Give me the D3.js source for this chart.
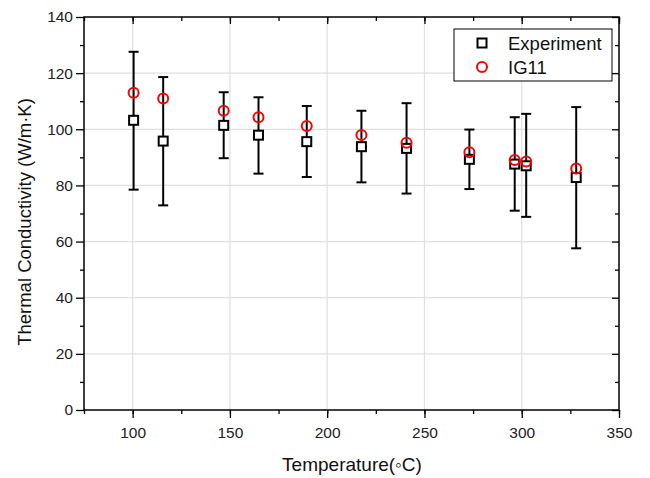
<!DOCTYPE html>
<html><head><meta charset="utf-8">
<script src="https://cdn.jsdelivr.net/npm/d3@7"></script>
<style>body{margin:0;background:#fff}svg{display:block;font-family:"Liberation Sans",Arial,sans-serif}</style>
</head><body><svg id="c" width="650" height="478"></svg>
<script>
const temps = [100.5, 115.7, 146.8, 164.7, 189.5, 217.6, 240.8, 273.1, 296.4, 302.3, 328.0];
const experiment = [103.2, 95.8, 101.4, 97.9, 95.6, 93.8, 93.2, 89.3, 87.6, 87.0, 82.8];
const errTop = [127.6, 118.6, 113.2, 111.4, 108.3, 106.6, 109.3, 99.9, 104.3, 105.5, 107.9];
const errBottom = [78.5, 72.9, 89.7, 84.2, 83.0, 81.1, 77.1, 78.7, 71.0, 68.8, 57.6];
const ig11 = [113.0, 111.0, 106.6, 104.3, 101.2, 98.0, 95.2, 91.8, 89.1, 88.5, 86.0];
const xTicks = [100, 150, 200, 250, 300, 350];
const yTicks = [0, 20, 40, 60, 80, 100, 120, 140];
const legendLabels = ["Experiment", "IG11"];

const svg = d3.select("#c");
const L = 84, R = 619, T = 17, B = 410;
const x = d3.scaleLinear().domain([75, 350]).range([L, R]);
const y = d3.scaleLinear().domain([0, 140]).range([B, T]);

// grid
const g = svg.append("g");
g.selectAll(".gx").data(xTicks.filter(d => d < 350)).join("line")
  .attr("x1", d => x(d)).attr("x2", d => x(d)).attr("y1", T).attr("y2", B)
  .attr("stroke", "#e0e0e0").attr("stroke-width", 1.2);
g.selectAll(".gy").data(yTicks.filter(d => d > 0 && d < 140)).join("line")
  .attr("y1", d => y(d)).attr("y2", d => y(d)).attr("x1", L).attr("x2", R)
  .attr("stroke", "#e0e0e0").attr("stroke-width", 1.2);

const minorX = d3.range(75, 351, 25);
const minorY = d3.range(10, 140, 20);

function styleAxis(sel) {
  sel.select(".domain").remove();
  sel.selectAll("line").attr("stroke", "#000").attr("stroke-width", 1.3);
  sel.selectAll("text").attr("font-size", 15.5).attr("fill", "#222")
    .attr("font-family", "Liberation Sans, Arial, sans-serif");
}
// bottom
svg.append("g").attr("transform", `translate(0,${B})`)
  .call(d3.axisBottom(x).tickValues(minorX).tickSize(4).tickFormat(""))
  .call(styleAxis);
svg.append("g").attr("transform", `translate(0,${B})`)
  .call(d3.axisBottom(x).tickValues(xTicks).tickSize(8).tickPadding(9).tickFormat(d3.format("d")))
  .call(styleAxis);
// left
svg.append("g").attr("transform", `translate(${L},0)`)
  .call(d3.axisLeft(y).tickValues(minorY).tickSize(4).tickFormat(""))
  .call(styleAxis);
svg.append("g").attr("transform", `translate(${L},0)`)
  .call(d3.axisLeft(y).tickValues(yTicks).tickSize(8).tickPadding(3).tickFormat(d3.format("d")))
  .call(styleAxis);
// top (inward)
svg.append("g").attr("transform", `translate(0,${T})`)
  .call(d3.axisTop(x).tickValues(minorX).tickSize(-4).tickFormat(""))
  .call(styleAxis);
svg.append("g").attr("transform", `translate(0,${T})`)
  .call(d3.axisTop(x).tickValues(xTicks).tickSize(-7).tickFormat(""))
  .call(styleAxis);
// right (inward)
svg.append("g").attr("transform", `translate(${R},0)`)
  .call(d3.axisRight(y).tickValues(minorY).tickSize(-4).tickFormat(""))
  .call(styleAxis);
svg.append("g").attr("transform", `translate(${R},0)`)
  .call(d3.axisRight(y).tickValues(yTicks).tickSize(-7).tickFormat(""))
  .call(styleAxis);

// frame
svg.append("rect").attr("x", L).attr("y", T).attr("width", R - L).attr("height", B - T)
  .attr("fill", "none").attr("stroke", "#000").attr("stroke-width", 1.5);

// data
const data = temps.map((t, i) => ({t, e: experiment[i], hi: errTop[i], lo: errBottom[i], m: ig11[i]}));
const eb = svg.append("g").attr("stroke", "#000").attr("stroke-width", 2);
eb.selectAll(".v").data(data).join("line")
  .attr("x1", d => x(d.t)).attr("x2", d => x(d.t)).attr("y1", d => y(d.hi)).attr("y2", d => y(d.lo));
eb.selectAll(".ct").data(data).join("line")
  .attr("x1", d => x(d.t) - 5).attr("x2", d => x(d.t) + 5).attr("y1", d => y(d.hi)).attr("y2", d => y(d.hi));
eb.selectAll(".cb").data(data).join("line")
  .attr("x1", d => x(d.t) - 5).attr("x2", d => x(d.t) + 5).attr("y1", d => y(d.lo)).attr("y2", d => y(d.lo));

const s = 9;
svg.append("g").selectAll("rect").data(data).join("rect")
  .attr("x", d => x(d.t) - s / 2).attr("y", d => y(d.e) - s / 2).attr("width", s).attr("height", s)
  .attr("fill", "#fff").attr("stroke", "#000").attr("stroke-width", 2);
svg.append("g").selectAll("circle").data(data).join("circle")
  .attr("cx", d => x(d.t)).attr("cy", d => y(d.m)).attr("r", 5)
  .attr("fill", "none").attr("stroke", "#ff0000").attr("stroke-width", 2);

// legend
const lg = svg.append("g");
lg.append("rect").attr("x", 454).attr("y", 29).attr("width", 158).attr("height", 52)
  .attr("fill", "#fff").attr("stroke", "#000").attr("stroke-width", 1);
lg.append("rect").attr("x", 482 - 4.5).attr("y", 43 - 4.5).attr("width", 9).attr("height", 9)
  .attr("fill", "#fff").attr("stroke", "#000").attr("stroke-width", 2);
lg.append("circle").attr("cx", 482).attr("cy", 67).attr("r", 5)
  .attr("fill", "none").attr("stroke", "#ff0000").attr("stroke-width", 2);
lg.selectAll("text").data(legendLabels).join("text")
  .attr("x", 508).attr("y", (d, i) => 49.5 + i * 24)
  .attr("font-size", 18.5).attr("fill", "#111").text(d => d);

// titles
svg.append("text").attr("x", 352).attr("y", 471).attr("text-anchor", "middle")
  .attr("font-size", 19).attr("fill", "#111").text("Temperature(\u25E6C)");
svg.append("text").attr("transform", `translate(31,222) rotate(-90)`)
  .attr("text-anchor", "middle").attr("font-size", 18.5).attr("fill", "#111")
  .text("Thermal Conductivity (W/m\u00B7K)");
</script></body></html>
